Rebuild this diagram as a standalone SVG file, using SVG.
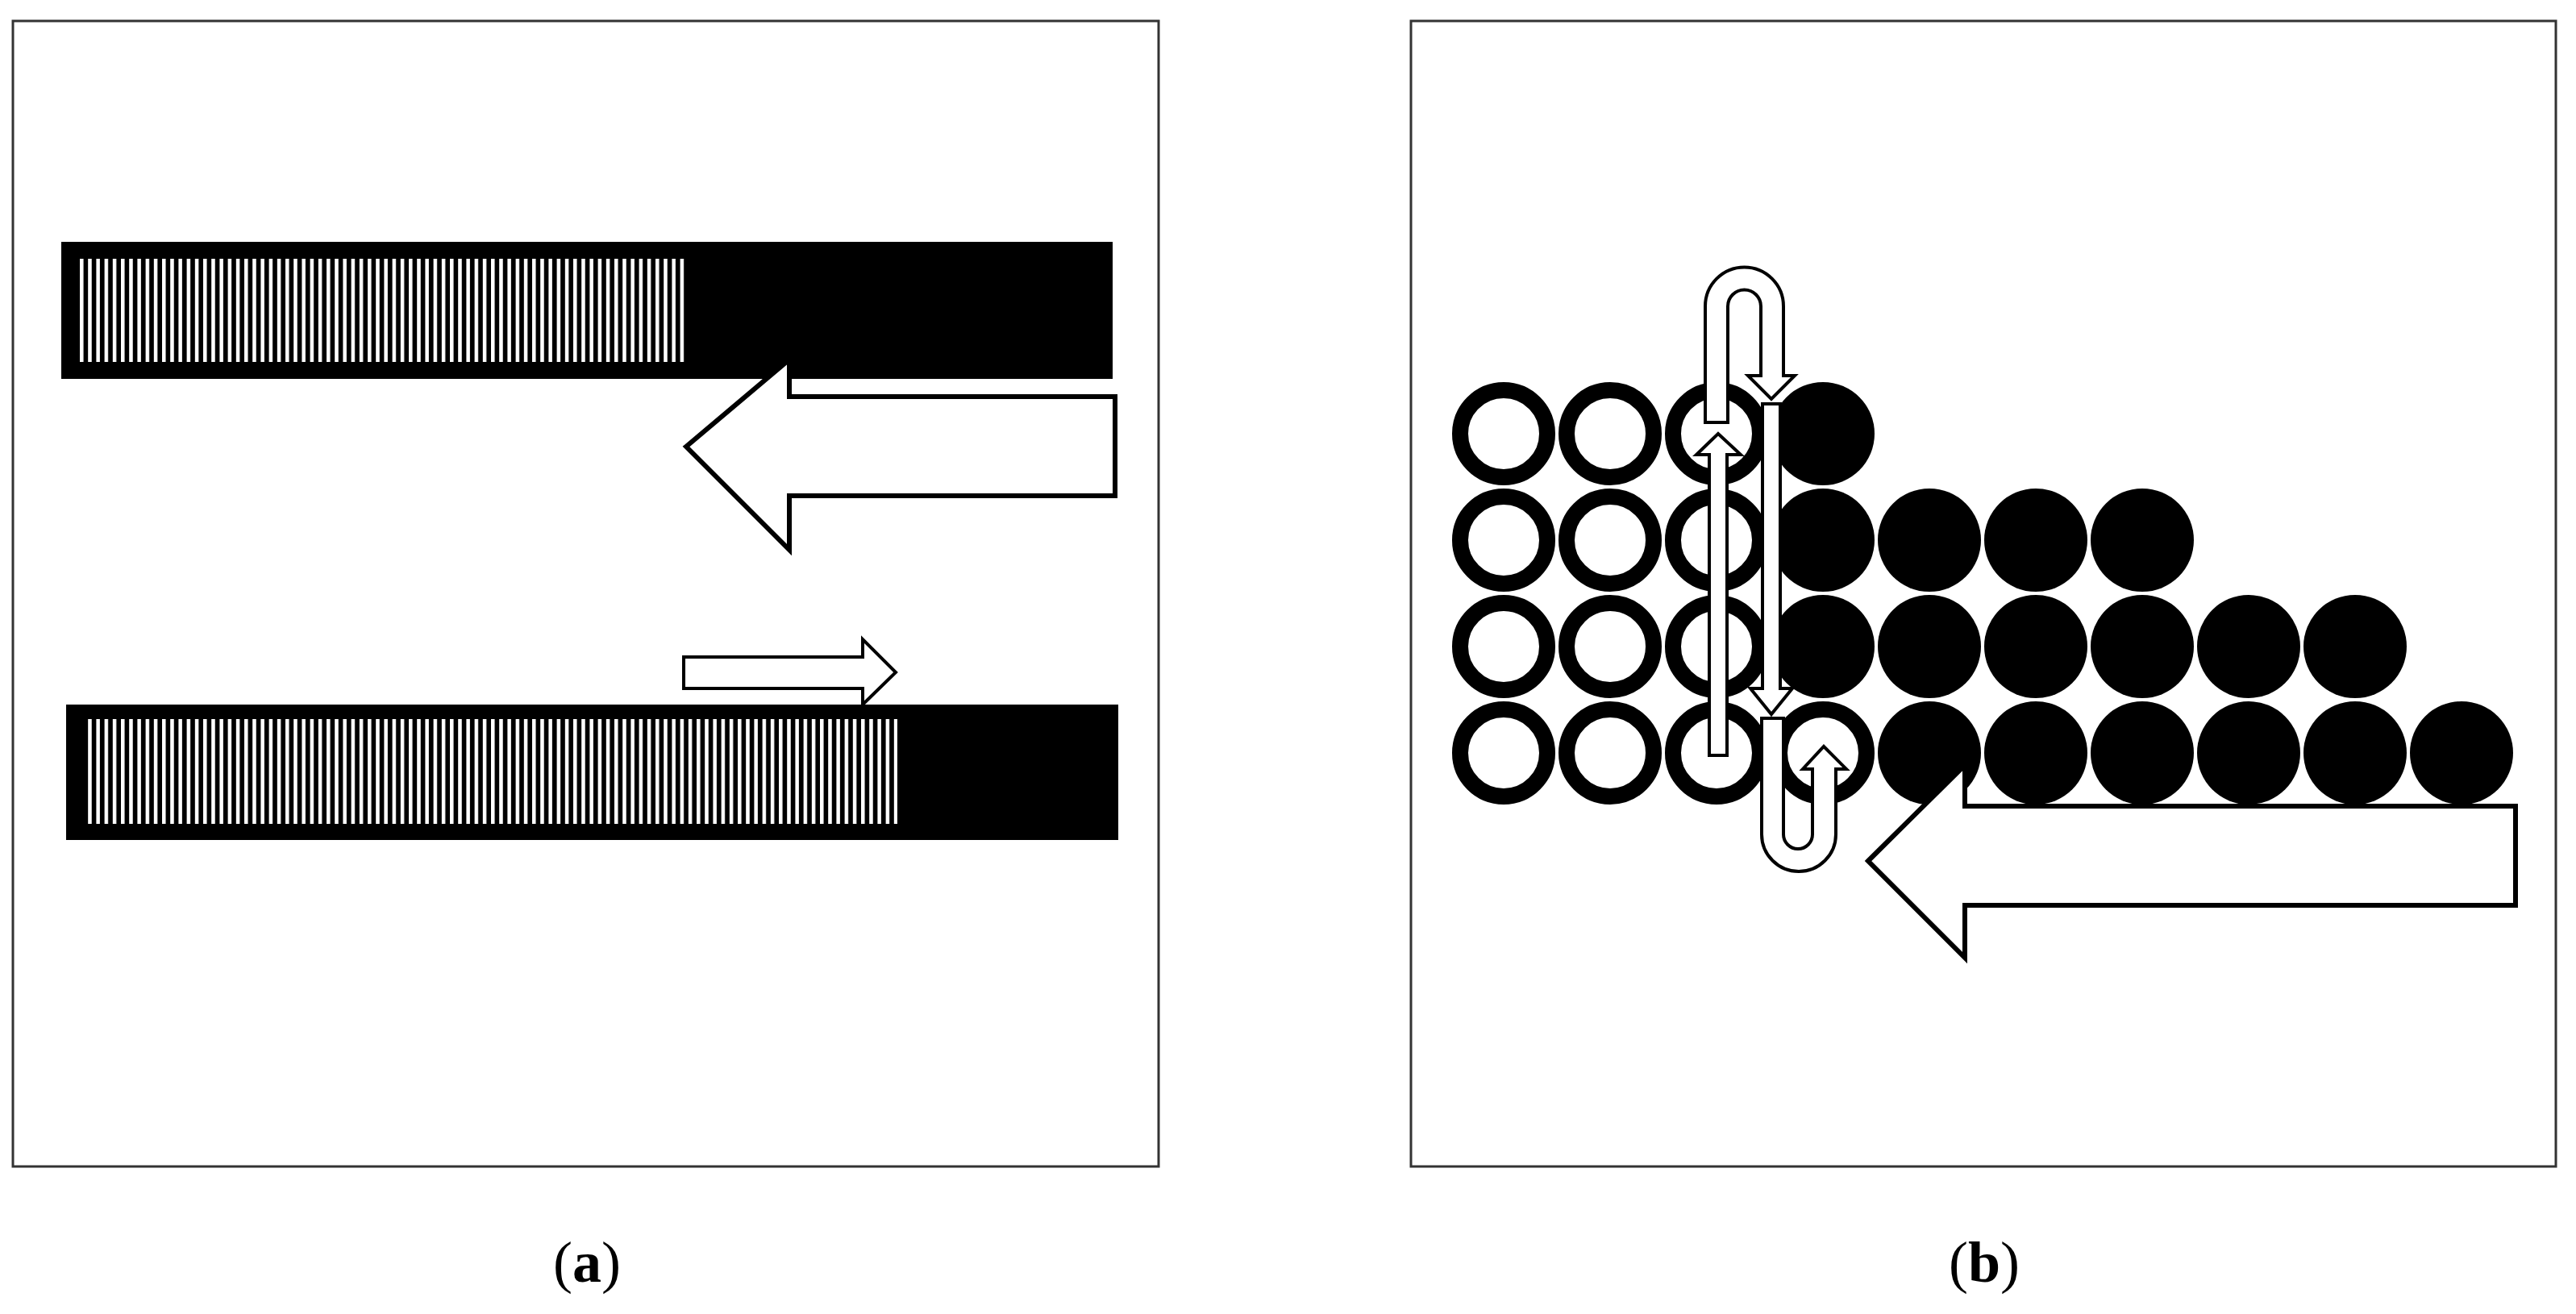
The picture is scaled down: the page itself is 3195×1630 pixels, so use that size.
<svg xmlns="http://www.w3.org/2000/svg" width="3195" height="1630" viewBox="0 0 3195 1630">
<defs>
<pattern id="st" x="99" y="0" width="10.2" height="10" patternUnits="userSpaceOnUse"><rect x="0" y="0" width="4.5" height="10" fill="#fff"/></pattern>
<style>
.frame{fill:#fff;stroke:#333;stroke-width:3}
.bar{fill:#000}
.arr{fill:#fff;stroke:#000;stroke-width:6;stroke-linejoin:miter}
.sarr{fill:#fff;stroke:#000;stroke-width:4}
.ring{fill:#fff;stroke:#000;stroke-width:20}
.dot{fill:#000}
.lbl{font-family:"Liberation Serif",serif;font-size:72px;text-anchor:middle}
</style>
</defs>
<rect width="3195" height="1630" fill="#fff"/>
<g id="panel-a">
<rect class="frame" x="16" y="26" width="1421" height="1421"/>
<g id="bar-top"><rect class="bar" x="76" y="300" width="1304" height="170"/><rect x="99" y="321" width="752" height="128" fill="url(#st)"/></g>
<g id="bar-bottom"><rect class="bar" x="82" y="874" width="1305" height="168"/><rect x="108" y="892" width="1005" height="130" fill="url(#st)"/></g>
<g id="arrow-left-a"><path class="arr" d="M851,554 L979,446 L979,492 L1383,492 L1383,615 L979,615 L979,682 Z"/></g>
<g id="arrow-right-a"><path class="sarr" d="M848,815 L1070,815 L1070,793 L1111,834 L1070,874 L1070,854 L848,854 Z"/></g>
<text class="lbl" x="728" y="1590">(<tspan font-weight="bold">a</tspan>)</text>
</g>
<g id="panel-b">
<rect class="frame" x="1750" y="26" width="1420" height="1421"/>
<g id="circles">
<circle class="ring" cx="1865" cy="538" r="54"/><circle class="ring" cx="1997" cy="538" r="54"/><circle class="ring" cx="2129" cy="538" r="54"/><circle class="dot" cx="2261" cy="538" r="64"/>
<circle class="ring" cx="1865" cy="670" r="54"/><circle class="ring" cx="1997" cy="670" r="54"/><circle class="ring" cx="2129" cy="670" r="54"/><circle class="dot" cx="2261" cy="670" r="64"/><circle class="dot" cx="2393" cy="670" r="64"/><circle class="dot" cx="2525" cy="670" r="64"/><circle class="dot" cx="2657" cy="670" r="64"/>
<circle class="ring" cx="1865" cy="802" r="54"/><circle class="ring" cx="1997" cy="802" r="54"/><circle class="ring" cx="2129" cy="802" r="54"/><circle class="dot" cx="2261" cy="802" r="64"/><circle class="dot" cx="2393" cy="802" r="64"/><circle class="dot" cx="2525" cy="802" r="64"/><circle class="dot" cx="2657" cy="802" r="64"/><circle class="dot" cx="2789" cy="802" r="64"/><circle class="dot" cx="2921" cy="802" r="64"/>
<circle class="ring" cx="1865" cy="934" r="54"/><circle class="ring" cx="1997" cy="934" r="54"/><circle class="ring" cx="2129" cy="934" r="54"/><circle class="ring" cx="2261" cy="934" r="54"/><circle class="dot" cx="2393" cy="934" r="64"/><circle class="dot" cx="2525" cy="934" r="64"/><circle class="dot" cx="2657" cy="934" r="64"/><circle class="dot" cx="2789" cy="934" r="64"/><circle class="dot" cx="2921" cy="934" r="64"/><circle class="dot" cx="3053" cy="934" r="64"/>
</g>
<g id="arrows-b">
<path class="sarr" d="M2115,524 L2115,380 A48.5,48.5 0 0 1 2212,380 L2212,466 L2226,466 L2197,495 L2168,466 L2184,466 L2184,380 A20.5,20.5 0 0 0 2143,380 L2143,524 Z"/>
<path class="sarr" d="M2186,501 L2208,501 L2208,854 L2223,854 L2197,886 L2171,854 L2186,854 Z"/>
<path class="sarr" d="M2120,937 L2120,564 L2104,564 L2131,538 L2159,564 L2142,564 L2142,937 Z"/>
<path class="sarr" d="M2185,891 L2185,1035 A46,46 0 0 0 2277,1035 L2277,954 L2290,954 L2262,926 L2236,954 L2248,954 L2248,1035 A18,18 0 0 1 2212,1035 L2212,891 Z"/>
<path class="arr" d="M2317,1068 L2437,949 L2437,1000 L3120,1000 L3120,1123 L2437,1123 L2437,1188 Z"/>
</g>
<text class="lbl" x="2461" y="1590">(<tspan font-weight="bold">b</tspan>)</text>
</g>
</svg>
